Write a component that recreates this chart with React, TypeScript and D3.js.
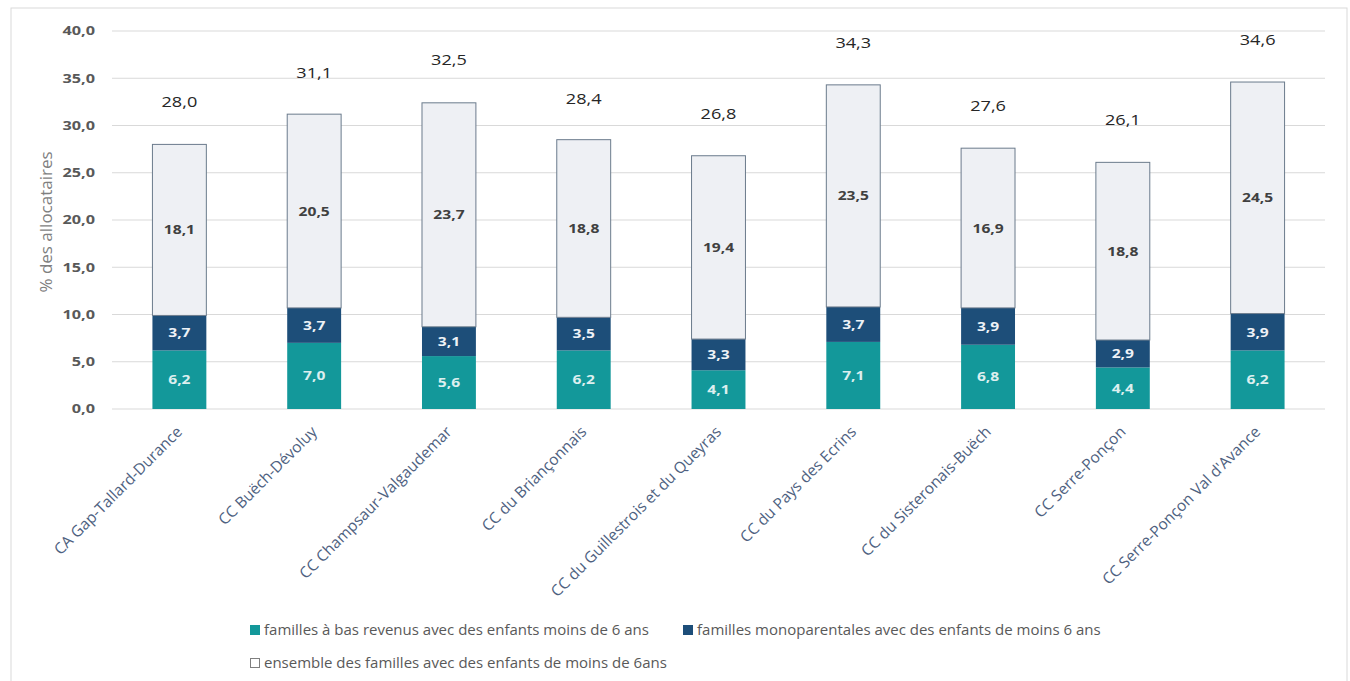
import React from "react";
import * as d3 from "d3";

const categories = [
  "CA Gap-Tallard-Durance",
  "CC Buëch-Dévoluy",
  "CC Champsaur-Valgaudemar",
  "CC du Briançonnais",
  "CC du Guillestrois et du Queyras",
  "CC du Pays des Ecrins",
  "CC du Sisteronais-Buëch",
  "CC Serre-Ponçon",
  "CC Serre-Ponçon Val d'Avance",
];
const basRevenus = [6.2, 7.0, 5.6, 6.2, 4.1, 7.1, 6.8, 4.4, 6.2];
const monoparentales = [3.7, 3.7, 3.1, 3.5, 3.3, 3.7, 3.9, 2.9, 3.9];
const ensemble = [18.1, 20.5, 23.7, 18.8, 19.4, 23.5, 16.9, 18.8, 24.5];
const totals = [28.0, 31.1, 32.5, 28.4, 26.8, 34.3, 27.6, 26.1, 34.6];
const yTicks = [0, 5, 10, 15, 20, 25, 30, 35, 40];
const seriesNames = [
  "familles à bas revenus avec des enfants moins de 6 ans",
  "familles monoparentales avec des enfants de moins 6 ans",
  "ensemble des familles avec des enfants de moins de 6ans",
];

const W = 1350;
const H = 681;
const FONT = "'Open Sans', Lato, sans-serif";
const fmt = (v: number) => v.toFixed(1).replace(".", ",");

function T(props: any) {
  const { x, y, sx = 1, rot = 0, children, ...rest } = props;
  return (
    <text transform={`translate(${x},${y}) rotate(${rot}) scale(${sx},1)`} {...rest}>
      {children}
    </text>
  );
}

export default function App() {
  const x = d3
    .scaleBand<string>()
    .domain(categories)
    .range([112, 1325])
    .paddingInner(0.6)
    .paddingOuter(0.3);
  const y = d3.scaleLinear().domain([0, 40]).range([409, 31]);

  const rows = categories.map((c, i) => ({
    cat: c,
    a: basRevenus[i],
    b: monoparentales[i],
    c: ensemble[i],
  }));
  const stack = d3.stack<any>().keys(["a", "b", "c"])(rows);
  const fills = ["#13989A", "#1D4E79", "#EEF0F4"];
  const labelColors = ["#DCEFEF", "#EEF2F7", "#404040"];

  return (
    <svg
      width={W}
      height={H}
      style={{ position: "absolute", left: 0, top: 0, background: "#fff" }}
      fontFamily={FONT}
    >
      <rect x={11} y={8} width={1336} height={690} fill="#fff" stroke="#D9D9D9" strokeWidth={1} />
      {/* gridlines */}
      {yTicks.map((t) => (
        <g key={t}>
          <line x1={112} x2={1325} y1={y(t)} y2={y(t)} stroke="#D9D9D9" strokeWidth={1.2} />
          <T
            x={95}
            y={y(t)}
            sx={1.3}
            dy="0.35em"
            textAnchor="end"
            fontSize={12.5}
            fontWeight={700}
            fill="#595959"
          >
            {fmt(t)}
          </T>
        </g>
      ))}
      <T
        x={46}
        y={222}
        rot={-90}
        textAnchor="middle"
        dy="0.35em"
        fontSize={17}
        fill="#7F7F7F"
      >
        % des allocataires
      </T>
      {/* bars */}
      {stack.map((layer, li) => (
        <g key={li}>
          {layer.map((d, i) => {
            const bx = x(categories[i])!;
            const y0 = y(d[0]);
            const y1 = y(d[1]);
            return (
              <g key={i}>
                <rect
                  x={bx}
                  y={y1}
                  width={x.bandwidth()}
                  height={y0 - y1}
                  fill={fills[li]}
                  stroke={li === 2 ? "#6B7B8C" : "none"}
                  strokeWidth={li === 2 ? 1 : 0}
                />
                <T
                  x={bx + x.bandwidth() / 2}
                  y={(y0 + y1) / 2}
                  sx={1.2}
                  dy="0.35em"
                  textAnchor="middle"
                  fontSize={13}
                  fontWeight={700}
                  fill={labelColors[li]}
                >
                  {fmt(d[1] - d[0])}
                </T>
              </g>
            );
          })}
        </g>
      ))}
      {/* totals */}
      {totals.map((t, i) => (
        <T
          key={i}
          x={x(categories[i])! + x.bandwidth() / 2}
          y={y(t) - 42}
          sx={1.25}
          dy="0.35em"
          textAnchor="middle"
          fontSize={14.5}
          fill="#262626"
        >
          {fmt(t)}
        </T>
      ))}
      {/* x labels */}
      {categories.map((c) => (
        <T
          key={c}
          x={x(c)! + x.bandwidth() / 2}
          y={429}
          rot={-45}
          textAnchor="end"
          dy="0.35em"
          fontSize={15.5}
          fill="#4E617F"
        >
          {c}
        </T>
      ))}
      {/* legend */}
      <g fontSize={15} fill="#595959">
        <rect x={250} y={625} width={10} height={10} fill={fills[0]} />
        <text x={264} y={630} dy="0.35em">{seriesNames[0]}</text>
        <rect x={683} y={625} width={10} height={10} fill={fills[1]} />
        <text x={697} y={630} dy="0.35em">{seriesNames[1]}</text>
        <rect x={250.5} y={658.5} width={9} height={9} fill="#fff" stroke="#7F7F7F" strokeWidth={1} />
        <text x={264} y={663} dy="0.35em">{seriesNames[2]}</text>
      </g>
    </svg>
  );
}
